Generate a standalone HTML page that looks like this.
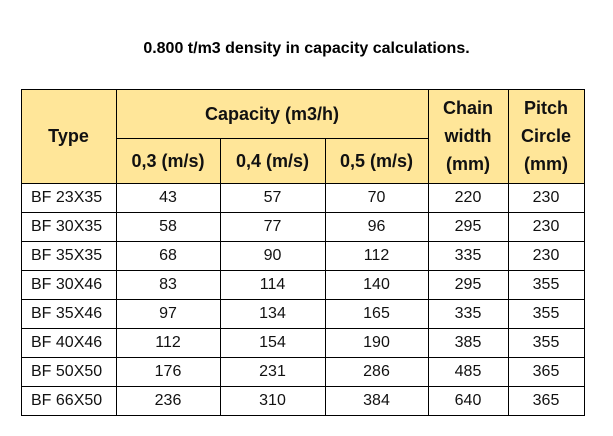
<!DOCTYPE html>
<html><head><style>
body{margin:0;width:613px;height:436px;background:#fff;font-family:"Liberation Sans",Arial,sans-serif;position:relative;overflow:hidden}
.t{position:absolute;top:40px;left:0;width:613px;text-align:center;font-weight:bold;font-size:16px;color:#000}
.c{position:absolute;box-sizing:border-box;display:flex;align-items:center;justify-content:center;text-align:center;color:#111}
.h{background:#FFE699;font-weight:bold;font-size:18px;line-height:28px}
.d{font-size:16px}
.l{position:absolute;background:#000}
</style></head><body>
<div class="t">0.800 t/m3 density in capacity calculations.</div>
<div id="g"></div>
<script>
var X=[21,116,220,325,428,508,584];
var Y=[89,138,183,212,241,270,299,328,357,386,415];
var g=document.getElementById('g'),h='';
function cell(x1,y1,x2,y2,txt,cls,al){h+='<div class="c '+cls+'" style="left:'+x1+'px;top:'+y1+'px;width:'+(x2-x1)+'px;height:'+(y2-y1)+'px;'+(al?'justify-content:flex-start;padding-left:10px;':'')+'">'+txt+'</div>';}
cell(X[0],Y[0],X[1],Y[2],'Type','h');
cell(X[1],Y[0],X[4],Y[1],'Capacity (m3/h)','h');
cell(X[1],Y[1],X[2],Y[2],'0,3 (m/s)','h');
cell(X[2],Y[1],X[3],Y[2],'0,4 (m/s)','h');
cell(X[3],Y[1],X[4],Y[2],'0,5 (m/s)','h');
cell(X[4],Y[0],X[5],Y[2],'Chain<br>width<br>(mm)','h');
cell(X[5],Y[0],X[6],Y[2],'Pitch<br>Circle<br>(mm)','h');
var R=[["BF 23X35",43,57,70,220,230],["BF 30X35",58,77,96,295,230],["BF 35X35",68,90,112,335,230],["BF 30X46",83,114,140,295,355],["BF 35X46",97,134,165,335,355],["BF 40X46",112,154,190,385,355],["BF 50X50",176,231,286,485,365],["BF 66X50",236,310,384,640,365]];
R.forEach(function(r,i){for(var j=0;j<6;j++)cell(X[j],Y[i+2],X[j+1],Y[i+3],r[j],'d',j==0);});
function L(x,y,w,hh){h+='<div class="l" style="left:'+x+'px;top:'+y+'px;width:'+w+'px;height:'+hh+'px"></div>';}
L(X[0],Y[0],X[6]-X[0]+1,1);L(X[1],Y[1],X[4]-X[1],1);
for(var i=2;i<Y.length;i++)L(X[0],Y[i],X[6]-X[0]+1,1);
L(X[0],Y[0],1,Y[10]-Y[0]);L(X[1],Y[0],1,Y[10]-Y[0]);L(X[4],Y[0],1,Y[10]-Y[0]);L(X[5],Y[0],1,Y[10]-Y[0]);L(X[6],Y[0],1,Y[10]-Y[0]+1);
L(X[2],Y[1],1,Y[10]-Y[1]);L(X[3],Y[1],1,Y[10]-Y[1]);
g.innerHTML=h;
</script>
</body></html>
